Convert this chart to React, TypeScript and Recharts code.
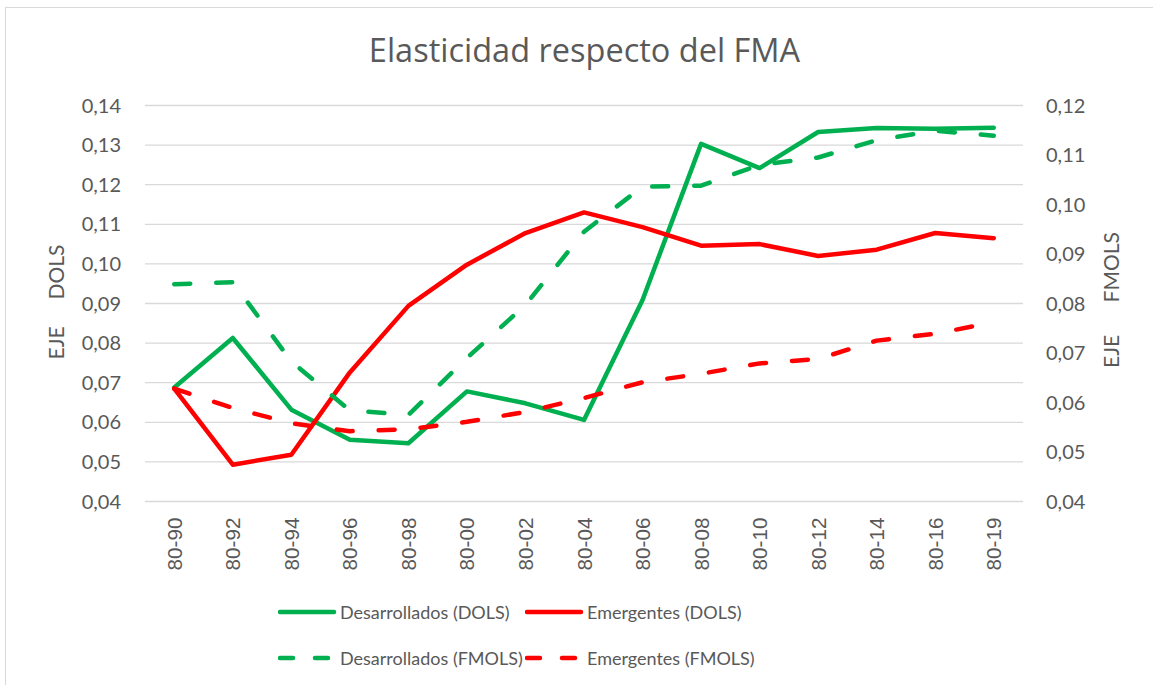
import { LineChart, Line, CartesianGrid, XAxis, YAxis } from 'recharts';

const categories = ['80-90', '80-92', '80-94', '80-96', '80-98', '80-00', '80-02', '80-04', '80-06', '80-08', '80-10', '80-12', '80-14', '80-16', '80-19'];
const desarrolladosDols = [0.0688, 0.0813, 0.0632, 0.0556, 0.0547, 0.0678, 0.0648, 0.0606, 0.0909, 0.1303, 0.1242, 0.1333, 0.1343, 0.1341, 0.1344];
const emergentesDols = [0.0685, 0.0493, 0.0518, 0.0726, 0.0894, 0.0998, 0.1078, 0.1130, 0.1093, 0.1046, 0.1050, 0.1020, 0.1036, 0.1078, 0.1065];
const desarrolladosFmols = [0.0839, 0.0843, 0.0683, 0.0584, 0.0575, 0.0690, 0.0797, 0.0945, 0.1036, 0.1038, 0.1080, 0.1095, 0.1130, 0.1149, 0.1139];
const emergentesFmols = [0.0628, 0.0589, 0.0558, 0.0542, 0.0546, 0.0561, 0.0581, 0.0609, 0.0641, 0.0658, 0.0679, 0.0688, 0.0725, 0.0739, 0.0762];
const leftTicks = [0.04, 0.05, 0.06, 0.07, 0.08, 0.09, 0.10, 0.11, 0.12, 0.13, 0.14];
const rightTicks = [0.04, 0.05, 0.06, 0.07, 0.08, 0.09, 0.10, 0.11, 0.12];

const GREEN = '#00b050';
const RED = '#ff0000';
const TEXT = '#595959';
const FONT = 'Lato, "Open Sans", sans-serif';

const data = categories.map((c, i) => ({
  periodo: c,
  desDols: desarrolladosDols[i],
  emeDols: emergentesDols[i],
  desFmols: desarrolladosFmols[i],
  emeFmols: emergentesFmols[i],
}));

const fmt = (v: number) => v.toFixed(2).replace('.', ',');

const XTick = (props: any) => {
  const { x, y, payload } = props;
  return (
    <text
      x={x}
      y={y}
      transform={`rotate(-90, ${x}, ${y})`}
      textAnchor="end"
      dominantBaseline="central"
      fill={TEXT}
      fontSize={20.7}
      fontFamily='"Liberation Sans", Arial, sans-serif'
    >
      {payload.value}
    </text>
  );
};

const legendItems = [
  { label: 'Desarrollados (DOLS)', color: GREEN, dashed: false, x: 278, y: 612 },
  { label: 'Emergentes (DOLS)', color: RED, dashed: false, x: 525, y: 612 },
  { label: 'Desarrollados (FMOLS)', color: GREEN, dashed: true, x: 278, y: 658 },
  { label: 'Emergentes (FMOLS)', color: RED, dashed: true, x: 525, y: 658 },
];

export default function App() {
  return (
    <div style={{ position: 'absolute', left: 0, top: 0, width: 1153, height: 685, background: '#fff', overflow: 'hidden', fontFamily: FONT }}>
      <div style={{ position: 'absolute', left: 5, top: 7, width: 1200, height: 720, border: '1.3px solid #d9d9d9' }} />
      <div style={{ position: 'absolute', left: 0, width: 1169, top: 30, textAlign: 'center', fontSize: 32.5, fontFamily: '"Open Sans", sans-serif', color: TEXT, lineHeight: '40px' }}>
        Elasticidad respecto del FMA
      </div>
      <div style={{ position: 'absolute', left: 55, top: 302, transform: 'translate(-50%, -50%) rotate(-90deg)', fontSize: 21, color: TEXT, whiteSpace: 'pre' }}>
        {'EJE     DOLS'}
      </div>
      <div style={{ position: 'absolute', left: 1110, top: 300, transform: 'translate(-50%, -50%) rotate(-90deg)', fontSize: 21, color: TEXT, whiteSpace: 'pre' }}>
        {'EJE      FMOLS'}
      </div>
      <div style={{ position: 'absolute', left: 0, top: 0 }}>
        <LineChart width={1153} height={685} data={data} margin={{ top: 105.5, right: 0, bottom: 103.5, left: 0 }}>
          <CartesianGrid horizontal vertical={false} stroke="#d9d9d9" strokeWidth={1.3} yAxisId="left" />
          <XAxis
            dataKey="periodo"
            height={80}
            axisLine={false}
            tickLine={false}
            tickSize={6}
            tickMargin={10}
            interval={0}
            padding={{ left: 29.25, right: 29.25 }}
            tick={<XTick />}
          />
          <YAxis
            yAxisId="left"
            orientation="left"
            width={145}
            domain={[0.04, 0.14]}
            ticks={leftTicks}
            tickFormatter={fmt}
            axisLine={false}
            tickLine={false}
            tickSize={6}
            tickMargin={18}
            tick={{ fill: TEXT, fontSize: 20, fontFamily: FONT }}
          />
          <YAxis
            yAxisId="right"
            orientation="right"
            width={130}
            domain={[0.04, 0.12]}
            ticks={rightTicks}
            tickFormatter={fmt}
            axisLine={false}
            tickLine={false}
            tickSize={6}
            tickMargin={17}
            tick={{ fill: TEXT, fontSize: 20, fontFamily: FONT }}
          />
          <Line yAxisId="left" type="linear" dataKey="desDols" stroke={GREEN} strokeWidth={4.5} dot={false} strokeLinejoin="round" strokeLinecap="round" isAnimationActive={false} />
          <Line yAxisId="left" type="linear" dataKey="emeDols" stroke={RED} strokeWidth={4.5} dot={false} strokeLinejoin="round" strokeLinecap="round" isAnimationActive={false} />
          <Line yAxisId="right" type="linear" dataKey="desFmols" stroke={GREEN} strokeWidth={4.5} strokeDasharray="16 26" dot={false} strokeLinejoin="round" strokeLinecap="round" isAnimationActive={false} />
          <Line yAxisId="right" type="linear" dataKey="emeFmols" stroke={RED} strokeWidth={4.5} strokeDasharray="16 26" dot={false} strokeLinejoin="round" strokeLinecap="round" isAnimationActive={false} />
        </LineChart>
      </div>
      {legendItems.map((it) => (
        <div key={it.label} style={{ position: 'absolute', left: it.x, top: it.y - 15, height: 30, display: 'flex', alignItems: 'center' }}>
          <svg width={60} height={30}>
            <line
              x1={2}
              x2={56}
              y1={15}
              y2={15}
              stroke={it.color}
              strokeWidth={4.5}
              strokeLinecap="round"
              strokeDasharray={it.dashed ? '13 22' : undefined}
            />
          </svg>
          <span style={{ fontSize: 18, color: TEXT, whiteSpace: 'nowrap', marginLeft: 2 }}>{it.label}</span>
        </div>
      ))}
    </div>
  );
}
